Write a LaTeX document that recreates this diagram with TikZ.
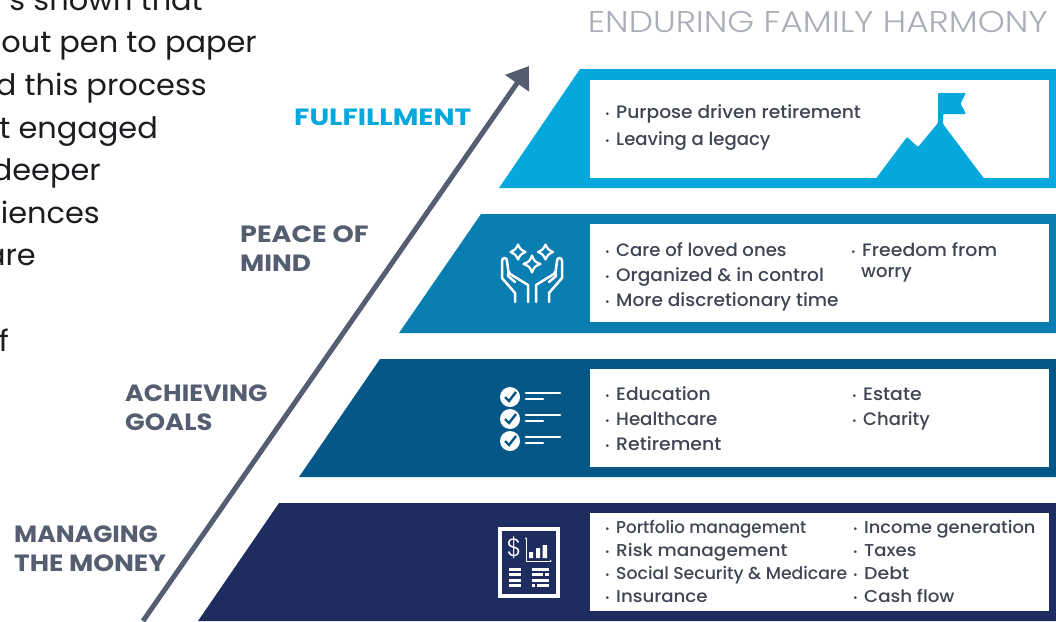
\documentclass[tikz,border=0pt]{standalone}
\usepackage{fontspec}
\setmainfont{Poppins}
\newfontfamily\lightfont{Poppins Light}
\newfontfamily\medfont{Poppins Medium}
\newfontfamily\parafont{Poppins}[FakeStretch=1.03]
\usetikzlibrary{arrows.meta}
\definecolor{tone}{HTML}{05A8DC}
\definecolor{ttwo}{HTML}{0A7DB1}
\definecolor{tthree}{HTML}{045786}
\definecolor{tfour}{HTML}{1F2C5F}
\definecolor{slate}{HTML}{555E70}
\definecolor{itemc}{HTML}{3F4553}
\definecolor{para}{HTML}{1C1C20}
\definecolor{titlec}{HTML}{A9AEB7}
\tikzset{
  whitebox/.style={fill=white,draw=none},
  paratext/.style={anchor=base east,inner sep=0,text=para,font=\parafont\fontsize{29.5}{30}\selectfont},
  tierlabel/.style={anchor=base west,inner sep=0,text=slate,font=\bfseries\fontsize{23.5}{24}\selectfont},
  itemtext/.style={anchor=base west,inner sep=0,text=itemc,font=\medfont\fontsize{18}{20}\selectfont},
  smalltext/.style={itemtext,font=\medfont\fontsize{17.2}{20}\selectfont},
  iconline/.style={draw=white,line width=2.5pt,line cap=round,line join=round},
  thickline/.style={draw=white,line width=2.8pt,line cap=round},
  docline/.style={draw=white,line width=3pt},
}
\newcommand{\blt}{\makebox[11pt][l]{\raisebox{0.8pt}{\fontsize{10}{10}\selectfont •}}}
\newcommand{\sx}[2]{\scalebox{#1}[1]{#2}}
\begin{document}
\begin{tikzpicture}[x=1pt,y=-1pt]
\useasboundingbox (0,0) rectangle (1056,621);
% paragraph fragments
\node[paratext] (p1) at (203,10) {s shown that};
\node[paratext] (p2) at (257,52) {out pen to paper};
\node[paratext] (p3) at (207,95) {d this process};
\node[paratext] (p4) at (158,138) {t engaged};
\node[paratext] (p5) at (101,180) {deeper};
\node[paratext] (p6) at (100,223) {iences};
\node[paratext] (p7) at (36,265) {are};
\node[paratext] (p8) at (9,351) {f};
% title
\node[anchor=base east,inner sep=0,text=titlec,font=\lightfont\fontsize{30}{30}\selectfont] (title) at (1048,32.5) {\sx{1.145}{ENDURING FAMILY HARMONY}};
% tiers
\fill[tone] (580,69) -- (499,188) -- (1056,188) -- (1056,69) -- cycle;
\fill[ttwo] (481,214) -- (399,333) -- (1056,333) -- (1056,214) -- cycle;
\fill[tthree] (380,359) -- (299,477) -- (1056,477) -- (1056,359) -- cycle;
\fill[tfour] (279,503) -- (198,621) -- (1056,621) -- (1056,503) -- cycle;
\fill[whitebox] (590,80) rectangle (1049,178);
\fill[whitebox] (590,224) rectangle (1049,322);
\fill[whitebox] (590,369) rectangle (1049,467);
\fill[whitebox] (590,513) rectangle (1049,611);
% arrow
\coordinate (arrowstart) at (143,621);
\coordinate (arrowend) at (529,66);
\draw[slate,line width=5pt,-{Triangle[length=21pt,width=28pt]}] (arrowstart) -- (arrowend);
% labels
\node[tierlabel,text=tone] (l1) at (294,125) {\sx{1.19}{FULFILLMENT}};
\node[tierlabel] (l2a) at (240,242) {\sx{1.15}{PEACE OF}};
\node[tierlabel] (l2b) at (240,271) {\sx{1.12}{MIND}};
\node[tierlabel] (l3a) at (125,401) {\sx{1.08}{ACHIEVING}};
\node[tierlabel] (l3b) at (125,430) {\sx{1.1}{GOALS}};
\node[tierlabel] (l4a) at (14,542) {\sx{1.07}{MANAGING}};
\node[tierlabel] (l4b) at (14,571) {\sx{1.125}{THE MONEY}};
% tier 1 text
\node[itemtext] (a1) at (605,118) {\blt \sx{1.038}{Purpose driven retirement}};
\node[itemtext] (a2) at (605,145) {\blt \sx{1.006}{Leaving a legacy}};
% tier 2 text
\node[itemtext] (b1) at (605,256) {\blt \sx{1.006}{Care of loved ones}};
\node[itemtext] (b2) at (605,281) {\blt \sx{1.03}{Organized \& in control}};
\node[itemtext] (b3) at (605,306) {\blt \sx{1.032}{More discretionary time}};
\node[itemtext] (b4) at (851,256) {\blt \sx{1.05}{Freedom from}};
\node[itemtext] (b5) at (861,277) {worry};
% tier 3 text
\node[itemtext] (c1) at (605,400) {\blt \sx{1.04}{Education}};
\node[itemtext] (c2) at (605,425) {\blt \sx{1.01}{Healthcare}};
\node[itemtext] (c3) at (605,450) {\blt \sx{1.05}{Retirement}};
\node[itemtext] (c4) at (852,400) {\blt \sx{1.05}{Estate}};
\node[itemtext] (c5) at (852,425) {\blt Charity};
% tier 4 text
\node[smalltext] (d1) at (605,533) {\blt \sx{0.97}{Portfolio management}};
\node[smalltext] (d2) at (605,556) {\blt \sx{1.075}{Risk management}};
\node[smalltext] (d3) at (605,579) {\blt \sx{1.004}{Social Security \& Medicare}};
\node[smalltext] (d4) at (605,602) {\blt \sx{1.058}{Insurance}};
\node[smalltext] (d5) at (853,533) {\blt \sx{1.036}{Income generation}};
\node[smalltext] (d6) at (853,556) {\blt \sx{1.05}{Taxes}};
\node[smalltext] (d7) at (853,579) {\blt \sx{1.1}{Debt}};
\node[smalltext] (d8) at (853,602) {\blt \sx{1.06}{Cash flow}};
% mountain icon
\fill[tone,rounded corners=1pt] (876,178.5) -- (907,137) -- (918,147) -- (938,123) -- (938,93) -- (966,93) -- (960.5,103.5) -- (966,114) -- (943,114) -- (943,124) -- (984,178.5) -- cycle;
% hands icon
\foreach \s in {1,-1}{
\begin{scope}[shift={(532,0)},xscale=\s]
\draw[iconline] (-17,302) -- (-17,293) -- (-30,278) -- (-30,261) .. controls (-30,257) and (-25,257) .. (-25,261) -- (-23.5,273) -- (-4,285) -- (-4,302);
\draw[iconline] (-22.5,272) -- (-24,276) -- (-17,282);
\end{scope}}
\foreach \cx/\cy/\r in {518/252/7.5,545.5/252/7.5,532/264/8.5}{
\draw[iconline,line width=2.2pt] (\cx,\cy-\r) .. controls (\cx+2.5,\cy-2.5) .. (\cx+\r,\cy) .. controls (\cx+2.5,\cy+2.5) .. (\cx,\cy+\r) .. controls (\cx-2.5,\cy+2.5) .. (\cx-\r,\cy) .. controls (\cx-2.5,\cy-2.5) .. cycle;
}
% checklist icon
\foreach \y in {397,419,441}{
\fill[white] (510,\y) circle (10);
\draw[tthree,line width=2.4pt] (505,\y) -- (509,\y+4) -- (516,\y-5);
\draw[thickline] (526,\y-4) -- (560,\y-4);
\draw[thickline] (526,\y+2) -- (543,\y+2);
}
% document icon
\draw[white,line width=3.6pt] (500,529) rectangle (558,596);
\node[anchor=center,inner sep=0,text=white,font=\lightfont\fontsize{25}{25}\selectfont] (dollar) at (514,548) {\$};
\draw[white,line width=.8pt,-{Latex[length=2pt,width=2pt]}] (526,561) -- (526,537);
\draw[white,line width=.8pt,-{Latex[length=2pt,width=2pt]}] (526,561) -- (552,561);
\fill[white] (529,552) rectangle (533,558) (536,548) rectangle (540,558) (542.5,545) rectangle (547,558);
\foreach \y in {569,574.5,580,585.5}{\draw[docline] (509,\y) -- (521,\y);}
\draw[docline] (532,569) -- (549,569);
\draw[docline] (532,574.5) -- (543,574.5) (545,574.5) -- (549,574.5);
\draw[docline] (532,580) -- (549,580);
\draw[docline] (532,585.5) -- (535,585.5) (537,585.5) -- (549,585.5);
\end{tikzpicture}
\end{document}
